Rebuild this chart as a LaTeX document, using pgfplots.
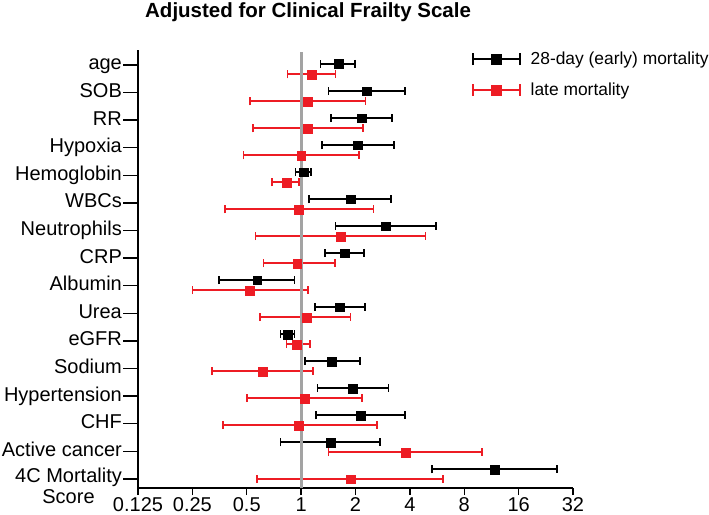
\documentclass[border=0pt]{standalone}
\usepackage{pgfplots}
\pgfplotsset{compat=1.18}
\usepackage{pgfplotstable}
\usepackage{fontspec}
\setmainfont{Liberation Sans}
\definecolor{myred}{RGB}{237,28,36}
\definecolor{refgray}{RGB}{163,163,163}

% 28-day (early) mortality
\pgfplotstableread{
y est lo hi
0.036 1.61 1.28 1.99
-0.943 2.30 1.42 3.77
-1.922 2.16 1.47 3.18
-2.901 2.06 1.30 3.26
-3.880 1.03 0.93 1.13
-4.859 1.87 1.11 3.14
-5.838 2.93 1.55 5.60
-6.817 1.74 1.35 2.23
-7.796 0.57 0.35 0.92
-8.775 1.63 1.19 2.25
-9.754 0.84 0.77 0.92
-10.733 1.47 1.05 2.11
-11.712 1.93 1.23 3.05
-12.691 2.14 1.21 3.77
-13.670 1.46 0.77 2.74
-14.649 11.77 5.29 26.0
}\early

% late mortality
\pgfplotstableread{
y est lo hi
-0.337 1.14 0.84 1.55
-1.315 1.09 0.52 2.27
-2.293 1.09 0.54 2.20
-3.271 1.00 0.48 2.09
-4.249 0.83 0.69 0.97
-5.227 0.97 0.38 2.52
-6.205 1.65 0.56 4.89
-7.183 0.95 0.62 1.54
-8.161 0.52 0.25 1.09
-9.139 1.07 0.59 1.88
-10.117 0.94 0.83 1.12
-11.095 0.61 0.32 1.16
-12.073 1.05 0.50 2.18
-13.051 0.97 0.37 2.64
-14.029 3.79 1.42 10.06
-15.007 1.87 0.57 6.09
}\late

\begin{document}
\begin{tikzpicture}
\begin{axis}[
  name=ax,
  scale only axis, width=435pt, height=438pt,
  xmode=log, log basis x=2, xmin=0.125, xmax=32,
  ymin=-15.326, ymax=0.543,
  clip=false,
  axis x line*=bottom, axis y line*=left,
  axis line style={line width=1.4pt, black},
  xtick={0.125,0.25,0.5,1,2,4,8,16,32},
  xticklabels={0.125,0.25,0.5,1,2,4,8,16,32},
  ytick={0,-1,-2,-3,-4,-5,-6,-7,-8,-9,-10,-11,-12,-13,-14,-15},
  yticklabels={age,SOB,RR,Hypoxia,Hemoglobin,WBCs,Neutrophils,CRP,Albumin,Urea,eGFR,Sodium,Hypertension,CHF,Active cancer,{\raisebox{2pt}{\begin{tabular}[t]{@{}c@{}}4C Mortality\\Score\end{tabular}}\hspace{9pt}}},
  minor tick num=0,
  tick align=outside,
  major tick length=15pt,
  x tick style={/pgfplots/major tick length=7pt, line width=1.4pt, black},
  y tick style={line width=1.4pt, black},
  ticklabel style={font=\fontsize{20}{21}\selectfont},
  yticklabel style={anchor=base east, yshift=-5pt, inner xsep=1pt},
  xticklabel style={anchor=base, yshift=-8pt},
  title={Adjusted for Clinical Frailty Scale},
  title style={at={(0.391,1)}, anchor=base, yshift=26.5pt, inner sep=0pt,
    font=\bfseries\fontsize{20.5}{24}\selectfont},
  legend style={at={(0.768,0.944)}, anchor=west, draw=none, fill=none,
    inner sep=0pt, outer sep=0pt, row sep=16.6pt,
    nodes={inner sep=0pt},
    font=\fontsize{17.4}{20}\selectfont,
    /tikz/every odd column/.append style={column sep=10pt}},
  legend cell align=left,
]
\addlegendimage{legend image code/.code={
  \draw[black, line width=1.6pt] (0pt,0pt) -- (47pt,0pt);
  \draw[black, line width=1.6pt] (0pt,-6pt) -- (0pt,6pt);
  \draw[black, line width=1.6pt] (47pt,-6pt) -- (47pt,6pt);
  \fill[black] (18.5pt,-5pt) rectangle (28.5pt,5pt);}}
\addlegendentry{28-day (early) mortality}
\addlegendimage{legend image code/.code={
  \draw[myred, line width=1.6pt] (0pt,0pt) -- (47pt,0pt);
  \draw[myred, line width=1.6pt] (0pt,-6pt) -- (0pt,6pt);
  \draw[myred, line width=1.6pt] (47pt,-6pt) -- (47pt,6pt);
  \fill[myred] (18.5pt,-5pt) rectangle (28.5pt,5pt);}}
\addlegendentry{late mortality}

\addplot[forget plot, only marks, black, line width=1.7pt, mark=square*, mark size=4.4pt,
  mark options={line width=0.2pt},
  error bars/.cd, x dir=both, x explicit, error mark=|,
  error bar style={line width=1.7pt, black},
  error mark options={mark size=4pt, line width=1.7pt, black}]
  table[x=est, y=y, x error plus expr=\thisrow{hi}-\thisrow{est},
        x error minus expr=\thisrow{est}-\thisrow{lo}] {\early};

\addplot[forget plot, only marks, myred, line width=1.7pt, mark=square*, mark size=4.4pt,
  mark options={line width=0.2pt},
  error bars/.cd, x dir=both, x explicit, error mark=|,
  error bar style={line width=1.7pt, myred},
  error mark options={mark size=4pt, line width=1.7pt, myred}]
  table[x=est, y=y, x error plus expr=\thisrow{hi}-\thisrow{est},
        x error minus expr=\thisrow{est}-\thisrow{lo}] {\late};

\addplot[forget plot, refgray, line width=3pt] coordinates {(1,-15.326) (1,0.471)};
\end{axis}
\pgfresetboundingbox
\path ([shift={(-138pt,-27pt)}]ax.south west) rectangle ([shift={(136pt,50pt)}]ax.north east);
\end{tikzpicture}
\end{document}
